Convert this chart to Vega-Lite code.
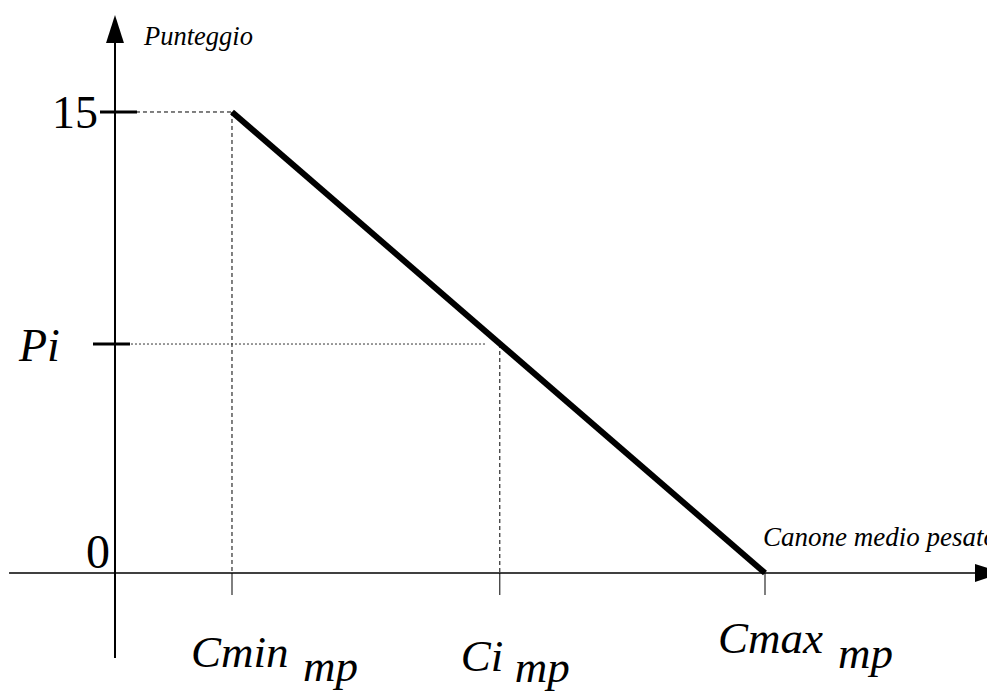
{
  "$schema": "https://vega.github.io/schema/vega-lite/v6.json",
  "width": 987,
  "height": 693,
  "autosize": "none",
  "padding": 0,
  "background": "white",
  "config": {"view": {"stroke": null}, "text": {"font": "Liberation Serif", "color": "black"}},
  "encoding": {
    "x": {"field": "x", "type": "quantitative", "scale": {"domain": [-0.8846, 6.7077], "nice": false, "zero": false}, "axis": null},
    "y": {"field": "y", "type": "quantitative", "scale": {"domain": [-3.905, 18.644], "nice": false, "zero": false}, "axis": null}
  },
  "layer": [
    {
      "data": {"values": [
        {"x": 0, "y": 15, "x2": 0.9, "y2": 15},
        {"x": 0.9, "y": 15, "x2": 0.9, "y2": 0},
        {"x": 2.96, "y": 7.45, "x2": 2.96, "y2": 0}
      ]},
      "mark": {"type": "rule", "color": "black", "strokeWidth": 1, "strokeDash": [4, 3]},
      "encoding": {"x2": {"field": "x2"}, "y2": {"field": "y2"}}
    },
    {
      "data": {"values": [{"x": 0, "y": 7.45, "x2": 2.86, "y2": 7.45}]},
      "mark": {"type": "rule", "color": "#333", "strokeWidth": 1, "strokeDash": [2, 2]},
      "encoding": {"x2": {"field": "x2"}, "y2": {"field": "y2"}}
    },
    {
      "data": {"values": [{"x": -0.815, "y": 0, "x2": 6.62, "y2": 0}]},
      "mark": {"type": "rule", "color": "black", "strokeWidth": 1.3},
      "encoding": {"x2": {"field": "x2"}, "y2": {"field": "y2"}}
    },
    {
      "data": {"values": [{"x": 0, "y": -2.77, "x2": 0, "y2": 17.3}]},
      "mark": {"type": "rule", "color": "black", "strokeWidth": 2},
      "encoding": {"x2": {"field": "x2"}, "y2": {"field": "y2"}}
    },
    {
      "data": {"values": [{"x": 0, "y": 17.7}]},
      "mark": {"type": "point", "shape": "M0,-1L-0.64,1L0.64,1Z", "size": 784, "filled": true, "color": "black", "opacity": 1, "strokeWidth": 0}
    },
    {
      "data": {"values": [{"x": 6.723, "y": 0}]},
      "mark": {"type": "point", "shape": "M0,-1L-0.64,1L0.64,1Z", "size": 784, "angle": 90, "filled": true, "color": "black", "opacity": 1, "strokeWidth": 0}
    },
    {
      "data": {"values": [{"x": 0.9, "y": 15}, {"x": 5, "y": 0}]},
      "mark": {"type": "line", "color": "black", "strokeWidth": 6}
    },
    {
      "data": {"values": [{"x": 0, "y": 15}]},
      "mark": {"type": "tick", "orient": "horizontal", "size": 37, "thickness": 3, "color": "black", "opacity": 1, "xOffset": 3.5}
    },
    {
      "data": {"values": [{"x": 0, "y": 7.45}]},
      "mark": {"type": "tick", "orient": "horizontal", "size": 37, "thickness": 3, "color": "black", "opacity": 1, "xOffset": -3.5}
    },
    {
      "data": {"values": [{"x": 0.9, "y": 0}, {"x": 2.96, "y": 0}, {"x": 5, "y": 0}]},
      "mark": {"type": "tick", "orient": "vertical", "size": 22, "thickness": 1, "color": "black", "opacity": 1, "yOffset": 11}
    },
    {
      "data": {"values": [{"x": 0, "y": 15, "t": "15"}]},
      "mark": {"type": "text", "fontSize": 46, "align": "right", "baseline": "alphabetic", "dx": -17, "dy": 16},
      "encoding": {"text": {"field": "t"}}
    },
    {
      "data": {"values": [{"x": 0, "y": 0, "t": "0"}]},
      "mark": {"type": "text", "fontSize": 48, "align": "right", "baseline": "alphabetic", "dx": -5, "dy": -5},
      "encoding": {"text": {"field": "t"}}
    },
    {
      "data": {"values": [{"x": 0, "y": 7.45, "t": "Pi"}]},
      "mark": {"type": "text", "fontSize": 46, "fontStyle": "italic", "align": "left", "baseline": "alphabetic", "dx": -96, "dy": 17},
      "encoding": {"text": {"field": "t"}}
    },
    {
      "data": {"values": [{"x": 0, "y": 17.7, "t": "Punteggio"}]},
      "mark": {"type": "text", "fontSize": 26.5, "fontStyle": "italic", "align": "left", "baseline": "alphabetic", "dx": 29, "dy": 16},
      "encoding": {"text": {"field": "t"}}
    },
    {
      "data": {"values": [{"x": 5, "y": 0, "t": "Canone medio pesato"}]},
      "mark": {"type": "text", "fontSize": 27, "fontStyle": "italic", "align": "left", "baseline": "alphabetic", "dx": -2, "dy": -27},
      "encoding": {"text": {"field": "t"}}
    },
    {
      "data": {"values": [{"x": 0.9, "y": 0, "t": "Cmin", "s": "mp"}]},
      "layer": [
        {"mark": {"type": "text", "fontSize": 45, "fontStyle": "italic", "align": "left", "baseline": "alphabetic", "dx": -41, "dy": 94}, "encoding": {"text": {"field": "t"}}},
        {"mark": {"type": "text", "fontSize": 45, "fontStyle": "italic", "align": "left", "baseline": "alphabetic", "dx": 71, "dy": 108}, "encoding": {"text": {"field": "s"}}}
      ]
    },
    {
      "data": {"values": [{"x": 2.96, "y": 0, "t": "Ci", "s": "mp"}]},
      "layer": [
        {"mark": {"type": "text", "fontSize": 45, "fontStyle": "italic", "align": "left", "baseline": "alphabetic", "dx": -39, "dy": 98}, "encoding": {"text": {"field": "t"}}},
        {"mark": {"type": "text", "fontSize": 45, "fontStyle": "italic", "align": "left", "baseline": "alphabetic", "dx": 15, "dy": 109}, "encoding": {"text": {"field": "s"}}}
      ]
    },
    {
      "data": {"values": [{"x": 5, "y": 0, "t": "Cmax", "s": "mp"}]},
      "layer": [
        {"mark": {"type": "text", "fontSize": 45, "fontStyle": "italic", "align": "left", "baseline": "alphabetic", "dx": -47, "dy": 80}, "encoding": {"text": {"field": "t"}}},
        {"mark": {"type": "text", "fontSize": 45, "fontStyle": "italic", "align": "left", "baseline": "alphabetic", "dx": 73, "dy": 95}, "encoding": {"text": {"field": "s"}}}
      ]
    }
  ]
}
